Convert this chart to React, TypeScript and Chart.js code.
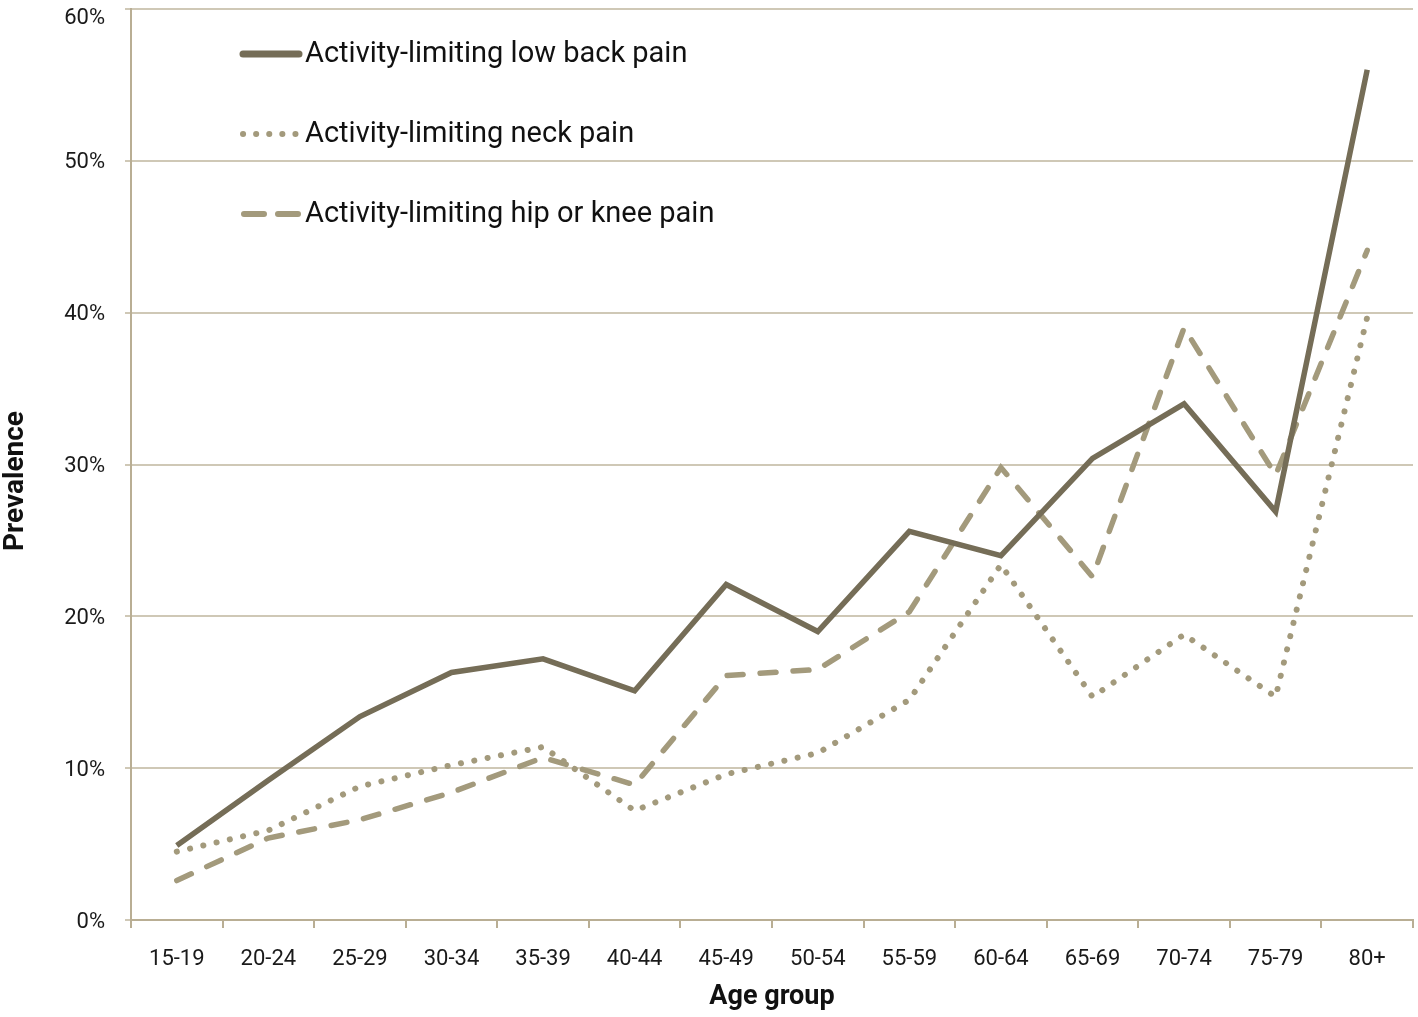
import React, { useEffect, useRef } from "react";
import { Chart, registerables } from "chart.js";

Chart.register(...registerables);

const categories = ["15-19", "20-24", "25-29", "30-34", "35-39", "40-44", "45-49", "50-54", "55-59", "60-64", "65-69", "70-74", "75-79", "80+"];
const lowBackPain = [4.9, 9.2, 13.4, 16.3, 17.2, 15.1, 22.1, 19.0, 25.6, 24.0, 30.4, 34.0, 26.9, 56.0];
const neckPain = [4.5, 5.9, 8.8, 10.2, 11.4, 7.2, 9.6, 11.0, 14.5, 23.4, 14.7, 18.8, 14.7, 39.7];
const hipKneePain = [2.6, 5.4, 6.6, 8.4, 10.7, 8.9, 16.1, 16.5, 20.3, 29.8, 22.6, 39.0, 29.3, 44.1];
const seriesLabels = ["Activity-limiting low back pain", "Activity-limiting neck pain", "Activity-limiting hip or knee pain"];
const yTickValues = [0, 10, 20, 30, 40, 50, 60];
const xTitle = "Age group";
const yTitle = "Prevalence";

const FONT = "Roboto, 'Liberation Sans', sans-serif";
const DARK = "#756D57";
const LIGHT = "#A39A7C";
const GRID = "#CFC8B6";
const AXIS = "#B9AE94";
const TICK_FONT_SIZE = 22;

const legendPlugin = {
  id: "innerLegend",
  afterDraw(chart: any) {
    const ctx = chart.ctx;
    const rows = [54, 134, 214];
    chart.data.datasets.forEach((ds: any, i: number) => {
      const y = rows[i];
      ctx.save();
      ctx.strokeStyle = ds.borderColor;
      ctx.lineWidth = i === 0 ? 7 : 6;
      ctx.lineCap = "round";
      if (i === 1) ctx.setLineDash([0.1, 13]);
      else if (i === 2) ctx.setLineDash([20, 14]);
      else ctx.setLineDash([]);
      ctx.beginPath();
      ctx.moveTo(i === 2 ? 244 : 243, y);
      ctx.lineTo(i === 1 ? 296 : 299, y);
      ctx.stroke();
      ctx.setLineDash([]);
      ctx.fillStyle = "#111";
      ctx.font = `29px ${FONT}`;
      ctx.textBaseline = "middle";
      ctx.fillText(ds.label, 305, y + 1);
      ctx.restore();
    });
    // rotated y-axis title
    ctx.save();
    ctx.translate(16, 481);
    ctx.rotate(-Math.PI / 2);
    ctx.fillStyle = "#111";
    ctx.font = `bold 28px ${FONT}`;
    ctx.textAlign = "center";
    ctx.textBaseline = "middle";
    ctx.fillText(yTitle, 0, 0);
    ctx.restore();
    // top tick label, pushed below the top edge so it is not clipped
    const yScale = chart.scales.y;
    const topVal = yTickValues[yTickValues.length - 1];
    ctx.save();
    ctx.fillStyle = "#1a1a1a";
    ctx.font = `${TICK_FONT_SIZE}px ${FONT}`;
    ctx.textAlign = "right";
    ctx.textBaseline = "middle";
    ctx.fillText(`${topVal}%`, yScale.right - 26, Math.max(yScale.getPixelForValue(topVal), 18));
    ctx.restore();
  },
};

export default function App() {
  const ref = useRef<HTMLCanvasElement | null>(null);
  useEffect(() => {
    document.body.style.margin = "0";
    const chart = new Chart(ref.current as HTMLCanvasElement, {
      type: "line",
      data: {
        labels: categories,
        datasets: [
          {
            label: seriesLabels[0],
            data: lowBackPain,
            borderColor: DARK,
            borderWidth: 5.5,
            pointRadius: 0,
            tension: 0,
            borderJoinStyle: "miter",
          },
          {
            label: seriesLabels[1],
            data: neckPain,
            borderColor: LIGHT,
            borderWidth: 6,
            pointRadius: 0,
            tension: 0,
            borderDash: [0.1, 13.5],
            borderCapStyle: "round",
          },
          {
            label: seriesLabels[2],
            data: hipKneePain,
            borderColor: LIGHT,
            borderWidth: 5.5,
            pointRadius: 0,
            tension: 0,
            borderDash: [16, 17],
            borderCapStyle: "round",
          },
        ],
      },
      options: {
        animation: false,
        responsive: false,
        layout: { padding: { top: 9, right: 5, left: 0, bottom: 0 } },
        plugins: { legend: { display: false }, tooltip: { enabled: false } },
        scales: {
          x: {
            offset: true,
            afterFit: (s: any) => {
              s.height = 97;
              s.paddingTop = 0;
              s.paddingBottom = 0;
              s.paddingLeft = 0;
              s.paddingRight = 0;
            },
            grid: {
              display: true,
              offset: true,
              drawOnChartArea: false,
              drawTicks: true,
              tickLength: 8,
              color: AXIS,
              lineWidth: 2,
            },
            border: { color: AXIS, width: 2 },
            ticks: { font: { family: FONT, size: TICK_FONT_SIZE }, color: "#1a1a1a", padding: 18, maxRotation: 0 },
            title: {
              display: true,
              text: xTitle,
              font: { family: FONT, size: 27, weight: "bold" },
              color: "#111",
              padding: { top: 4, bottom: 4 },
            },
          },
          y: {
            min: 0,
            max: 60,
            afterFit: (s: any) => {
              s.width = 131;
              s.paddingTop = 0;
              s.paddingBottom = 0;
              s.paddingLeft = 0;
              s.paddingRight = 0;
            },
            afterBuildTicks: (s: any) => {
              s.ticks = yTickValues.map((v) => ({ value: v }));
            },
            ticks: {
              font: { family: FONT, size: TICK_FONT_SIZE },
              color: "#1a1a1a",
              padding: 20,
              labelOffset: 2,
              callback: (v: any) => (v === yTickValues[yTickValues.length - 1] ? "" : `${v}%`),
            },
            grid: { color: GRID, lineWidth: 2, tickLength: 6 },
            border: { color: AXIS, width: 2 },
            title: { display: false },
          },
        },
      },
      plugins: [legendPlugin],
    } as any);
    return () => chart.destroy();
  }, []);
  return (
    <div style={{ position: "absolute", left: 0, top: 0, width: 1418, height: 1017, background: "#fff" }}>
      <canvas ref={ref} width={1418} height={1017} />
    </div>
  );
}
